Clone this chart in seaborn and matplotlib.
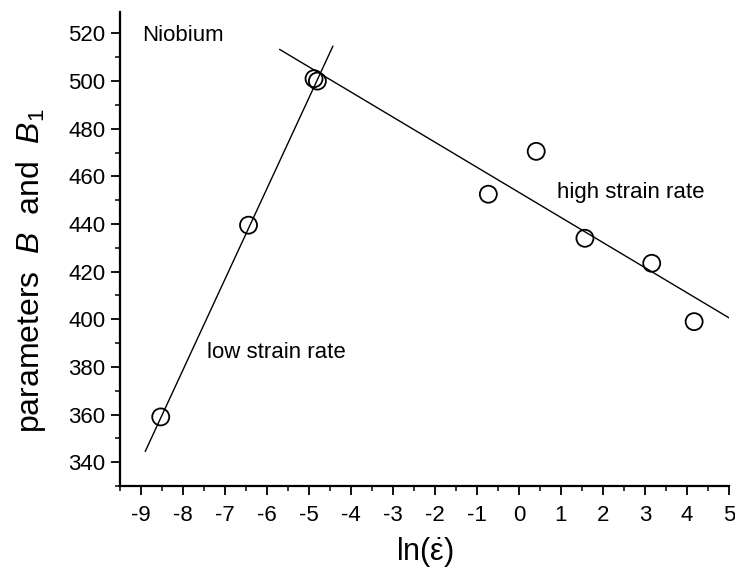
import matplotlib
matplotlib.use("Agg")
import matplotlib.pyplot as plt
from matplotlib.ticker import AutoMinorLocator
import pandas as pd
import seaborn as sns

# Measured parameters versus log strain rate
ln_rate = [-8.53, -6.44, -4.88, -4.80, -0.73, 0.41, 1.57, 3.16, 4.17]
param_b = [359.0, 439.5, 501.0, 500.0, 452.5, 470.5, 434.0, 423.5, 399.0]

# End points of the two straight-line fits
low_fit_x = [-8.90, -4.43]
low_fit_y = [344.5, 514.7]
high_fit_x = [-5.70, 5.00]
high_fit_y = [513.3, 400.6]

x_ticks = list(range(-9, 6))
y_ticks = list(range(340, 521, 20))

sns.set_theme(style="ticks")
plt.rcParams["font.family"] = ["Liberation Sans", "DejaVu Sans"]
plt.rcParams["mathtext.fontset"] = "custom"
plt.rcParams["mathtext.rm"] = "Liberation Sans"
plt.rcParams["mathtext.it"] = "Liberation Sans:italic"
plt.rcParams["mathtext.bf"] = "Liberation Sans:bold"
plt.rcParams["axes.unicode_minus"] = False
plt.rcParams["text.color"] = "black"
plt.rcParams["axes.labelcolor"] = "black"

fig = plt.figure(figsize=(7.35, 5.75), dpi=100)
ax = fig.add_axes([120 / 735, 1 - 486 / 575, (729 - 120) / 735, (486 - 12) / 575])

pts = pd.DataFrame({"x": ln_rate, "y": param_b})
low = pd.DataFrame({"x": low_fit_x, "y": low_fit_y})
high = pd.DataFrame({"x": high_fit_x, "y": high_fit_y})

sns.lineplot(data=low, x="x", y="y", color="black", lw=1.0, ax=ax)
sns.lineplot(data=high, x="x", y="y", color="black", lw=1.0, ax=ax)
sns.scatterplot(data=pts, x="x", y="y", s=150, marker="o",
                facecolors="none", edgecolor="black", linewidth=1.3, ax=ax,
                zorder=3)

ax.set_xlim(-9.5, 5.0)
ax.set_ylim(330, 529)
ax.set_xticks(x_ticks)
ax.set_yticks(y_ticks)
ax.xaxis.set_minor_locator(AutoMinorLocator(2))
ax.yaxis.set_minor_locator(AutoMinorLocator(2))

for side in ("top", "right"):
    ax.spines[side].set_visible(False)
for side in ("left", "bottom"):
    ax.spines[side].set_linewidth(1.6)
    ax.spines[side].set_color("black")

ax.tick_params(axis="both", which="major", direction="out", length=6.5,
               width=1.3, colors="black", labelsize=16)
ax.tick_params(axis="both", which="minor", direction="out", length=3.5,
               width=1.1, colors="black")
ax.tick_params(axis="x", which="major", pad=7)
ax.tick_params(axis="y", which="major", pad=4)

ax.set_xlabel(r"ln($\mathrm{\dot{\varepsilon}}$)", fontsize=22, color="black")
ax.set_ylabel(r"parameters  $\it{B}$  and  $\it{B}_{\rm 1}$", fontsize=23,
              color="black")
ax.xaxis.set_label_coords(0.5, -0.103)
ax.yaxis.set_label_coords(-0.118, 0.455)

ax.text(-8.98, 516.8, "Niobium", fontsize=16, ha="left", va="baseline",
        color="black")
ax.text(-7.42, 383.8, "low strain rate", fontsize=16, ha="left",
        va="baseline", color="black")
ax.text(0.90, 451.0, "high strain rate", fontsize=16, ha="left",
        va="baseline", color="black")

fig.savefig("out.png", dpi=100, facecolor="white")
